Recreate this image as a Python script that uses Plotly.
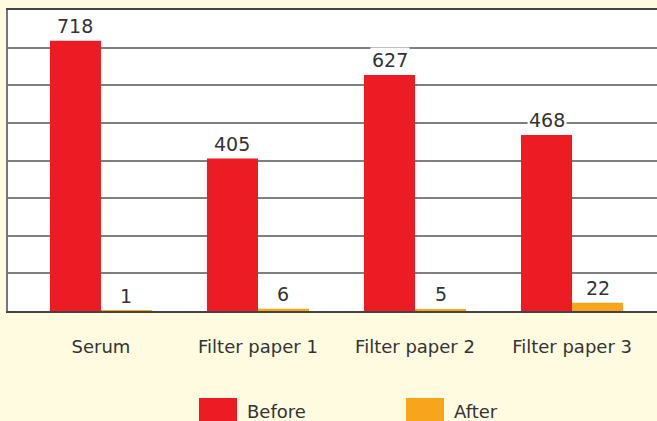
import plotly.graph_objects as go

categories = ["Serum", "Filter paper 1", "Filter paper 2", "Filter paper 3"]
before_values = [718, 405, 627, 468]
after_values = [1, 6, 5, 22]
series_names = ["Before", "After"]
series_colors = ["#ED1C24", "#F7A51C"]

FONT = "DejaVu Sans"
TEXT_COLOR = "#333333"
BG = "#FEFBE1"
HALF_BAR_PX = 25.5

fig = go.Figure()
for name, vals, col in zip(series_names, [before_values, after_values], series_colors):
    fig.add_trace(go.Bar(x=categories, y=vals, name=name, marker=dict(color=col, line=dict(width=0)),
                         showlegend=False))

annotations = []
for vals, shift in [(before_values, -HALF_BAR_PX), (after_values, HALF_BAR_PX)]:
    for c, v in zip(categories, vals):
        annotations.append(dict(x=c, y=v, xref="x", yref="y", text=str(v), showarrow=False,
                                yanchor="bottom", xshift=shift, yshift=2, bgcolor="white",
                                borderpad=1, font=dict(family=FONT, size=19, color=TEXT_COLOR)))

W, H = 657, 421
ml, mr, mt, mb = 8, 0, 10, 110
pw, ph = W - ml - mr, H - mt - mb

def px_to_paper_x(px):
    return (px - ml) / pw

def px_to_paper_y(py):
    return (H - mb - py) / ph

shapes = []
for sx, name, col in zip([199, 406], series_names, series_colors):
    shapes.append(dict(type="rect", xref="paper", yref="paper",
                       x0=px_to_paper_x(sx), x1=px_to_paper_x(sx + 38),
                       y0=px_to_paper_y(425), y1=px_to_paper_y(398),
                       fillcolor=col, line=dict(width=0), layer="above"))
    annotations.append(dict(xref="paper", yref="paper", x=px_to_paper_x(sx + 46),
                            y=px_to_paper_y(411), xanchor="left", yanchor="middle",
                            text=name, showarrow=False,
                            font=dict(family=FONT, size=18, color=TEXT_COLOR)))

fig.update_layout(
    width=W, height=H,
    margin=dict(l=ml, r=mr, t=mt, b=mb, pad=0),
    paper_bgcolor=BG, plot_bgcolor="white",
    barmode="group", bargap=0.35, bargroupgap=0,
    font=dict(family=FONT, size=18, color=TEXT_COLOR),
    annotations=annotations, shapes=shapes,
    xaxis=dict(range=[-0.592, 3.541], showline=True, linecolor="#444444", linewidth=1.5,
               mirror=True, ticks="outside", ticklen=19, tickcolor="rgba(0,0,0,0)",
               tickfont=dict(family=FONT, size=18, color=TEXT_COLOR), showgrid=False,
               fixedrange=True),
    yaxis=dict(range=[0, 800], dtick=100, showticklabels=False, showgrid=True,
               gridcolor="#7f7f7f", gridwidth=1.5, showline=True, linecolor="#777777",
               linewidth=2, zeroline=False, ticks="", fixedrange=True),
)

fig.write_html("out.html", config={"displayModeBar": False},
               post_script="document.body.style.margin='0';document.body.style.overflow='hidden';")
